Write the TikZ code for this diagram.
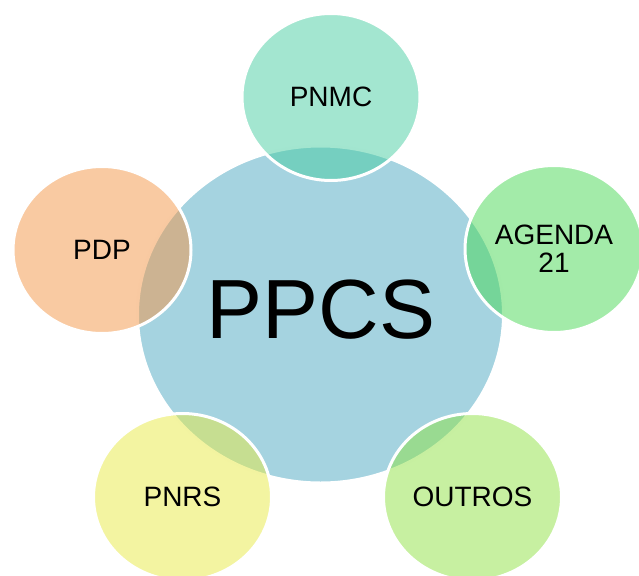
\documentclass[tikz,border=0pt]{standalone}
\usepackage{fontspec}
\setmainfont{Liberation Sans}
\usetikzlibrary{shapes.geometric}

\definecolor{hubblue}{RGB}{165,211,224}
\definecolor{pnmcgreen}{RGB}{71,205,161}
\definecolor{agendagreen}{RGB}{71,215,83}
\definecolor{pdporange}{RGB}{243,149,69}
\definecolor{pnrsyellow}{RGB}{231,233,67}
\definecolor{outroslime}{RGB}{143,225,67}

\begin{document}
\begin{tikzpicture}[x=1pt,y=-1pt]
			\useasboundingbox (0,0) rectangle (639,575);
			\clip (0,0) rectangle (639,575);
			
			\node[ellipse,fill=hubblue,draw=white,line width=3pt,inner sep=0pt,
				minimum width=366pt,minimum height=337pt] (ppcs) at (320.5,314.5) {};
			\node[font=\fontsize{84}{84}\selectfont] (ppcs-txt) at (321,309.5) {PPCS};
			
			\begin{scope}[every node/.style={ellipse,draw=white,line width=3pt,inner sep=0pt,
				minimum width=178pt,minimum height=167pt,fill opacity=0.5,draw opacity=1,
				text opacity=1,align=center,font=\fontsize{28}{28}\selectfont}]
			\node[fill=pnmcgreen]	(pnmc) at (331, 97)   {PNMC};
			
			\node[fill=agendagreen]	(agenda) at (554, 249) 	{AGENDA\\21};
			\node[fill=pdporange]	(pdp) at (102, 250) 	{PDP};
			
			\node[fill=pnrsyellow]	(pnrs) at (182.5, 497) 	{PNRS};
			\node[fill=outroslime]	(outros) at (472.5, 497) 	{OUTROS};
			\end{scope}
\end{tikzpicture}
\end{document}
